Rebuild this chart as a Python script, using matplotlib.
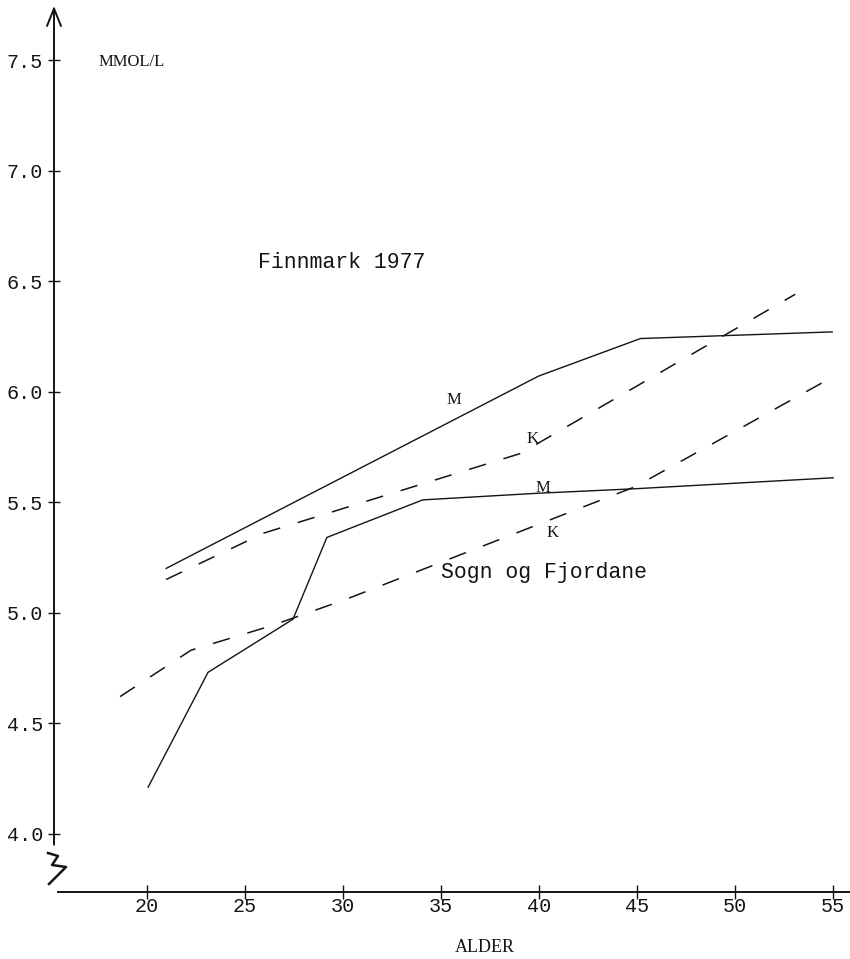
import matplotlib
matplotlib.use("Agg")
import matplotlib.pyplot as plt
from matplotlib.lines import Line2D

# ---- data ----
finn_m_age = [20.97, 39.97, 45.17, 54.95]
finn_m_val = [5.20, 6.07, 6.24, 6.27]

finn_k_age = [20.97, 25.96, 39.05, 53.06]
finn_k_val = [5.15, 5.36, 5.72, 6.44]

sogn_m_age = [20.05, 23.11, 27.44, 29.17, 34.06, 39.92, 44.81, 55.0]
sogn_m_val = [4.21, 4.73, 4.97, 5.34, 5.51, 5.54, 5.56, 5.61]

sogn_k_age = [18.62, 22.24, 26.32, 30.14, 44.91, 54.85]
sogn_k_val = [4.62, 4.83, 4.94, 5.06, 5.57, 6.06]

x_ticks = [20, 25, 30, 35, 40, 45, 50, 55]
y_ticks = [4.0, 4.5, 5.0, 5.5, 6.0, 6.5, 7.0, 7.5]

MONO = "Liberation Mono"
SERIF = "Liberation Serif"
INK = "#141414"

W, H = 850, 959
fig = plt.figure(figsize=(W / 100, H / 100), dpi=100)
fig.patch.set_facecolor("white")

# axes box in pixels: left 54, right 850, top 5, bottom 892
ax = fig.add_axes([54 / W, (H - 892) / H, (850 - 54) / W, (892 - 5) / H])
ax.set_xlim(15.25, 55.86)
ax.set_ylim(3.736, 7.749)
ax.set_facecolor("white")

# lines
ax.plot(finn_m_age, finn_m_val, color=INK, lw=1.0)
ax.plot(sogn_m_age, sogn_m_val, color=INK, lw=1.0)
ax.plot(finn_k_age, finn_k_val, color=INK, lw=1.1, dashes=(11.5, 12))
ax.plot(sogn_k_age, sogn_k_val, color=INK, lw=1.1, dashes=(11.5, 12))

# spines / axes
for s in ["top", "right", "left"]:
    ax.spines[s].set_visible(False)
ax.spines["bottom"].set_bounds(15.47, 55.86)
ax.spines["bottom"].set_linewidth(1.4)
ax.spines["bottom"].set_color(INK)

# y axis with arrow
ax.annotate("", xy=(0, 7.745), xytext=(0, 3.95),
            xycoords=("axes fraction", "data"), textcoords=("axes fraction", "data"),
            arrowprops=dict(arrowstyle="->,head_length=0.7,head_width=0.28",
                            lw=1.4, color=INK, mutation_scale=18,
                            shrinkA=0, shrinkB=0))

ax.set_xticks(x_ticks)
ax.set_xticklabels([str(v) for v in x_ticks])
ax.set_yticks(y_ticks)
ax.set_yticklabels([f"{v:.1f}" for v in y_ticks])
ax.tick_params(axis="x", direction="inout", length=9.5, width=1.0, color=INK,
               pad=-1.5, labelsize=14.5)
ax.tick_params(axis="y", direction="inout", length=9, width=1.0, color=INK,
               pad=3.5, labelsize=14.5)
for lab in ax.get_xticklabels() + ax.get_yticklabels():
    lab.set_fontfamily(MONO)
    lab.set_color(INK)

# axis break mark (decoration, figure pixels)
zx = [48, 58, 52, 66, 49]
zy = [853, 856, 865, 867, 884]
fig.add_artist(Line2D([x / W for x in zx], [1 - y / H for y in zy],
                      transform=fig.transFigure, color=INK, lw=1.8))

# texts
ax.text(17.50, 7.49, "MMOL/L", family=SERIF, fontsize=12, color=INK,
        ha="left", va="center")
ax.text(25.65, 6.586, "Finnmark 1977", family=MONO, fontsize=15.5, color=INK,
        ha="left", va="center")
ax.text(34.98, 5.183, "Sogn og Fjordane", family=MONO, fontsize=15.5, color=INK,
        ha="left", va="center")
ax.text(35.64, 5.962, "M", family=SERIF, fontsize=12, color=INK, ha="center", va="center")
ax.text(39.66, 5.785, "K", family=SERIF, fontsize=12, color=INK, ha="center", va="center")
ax.text(40.17, 5.563, "M", family=SERIF, fontsize=12, color=INK, ha="center", va="center")
ax.text(40.68, 5.360, "K", family=SERIF, fontsize=12, color=INK, ha="center", va="center")
fig.text(485 / W, 1 - 948 / H, "ALDER", family=SERIF, fontsize=13, color=INK,
         ha="center", va="center")

fig.savefig("out.png", dpi=100, facecolor="white")
